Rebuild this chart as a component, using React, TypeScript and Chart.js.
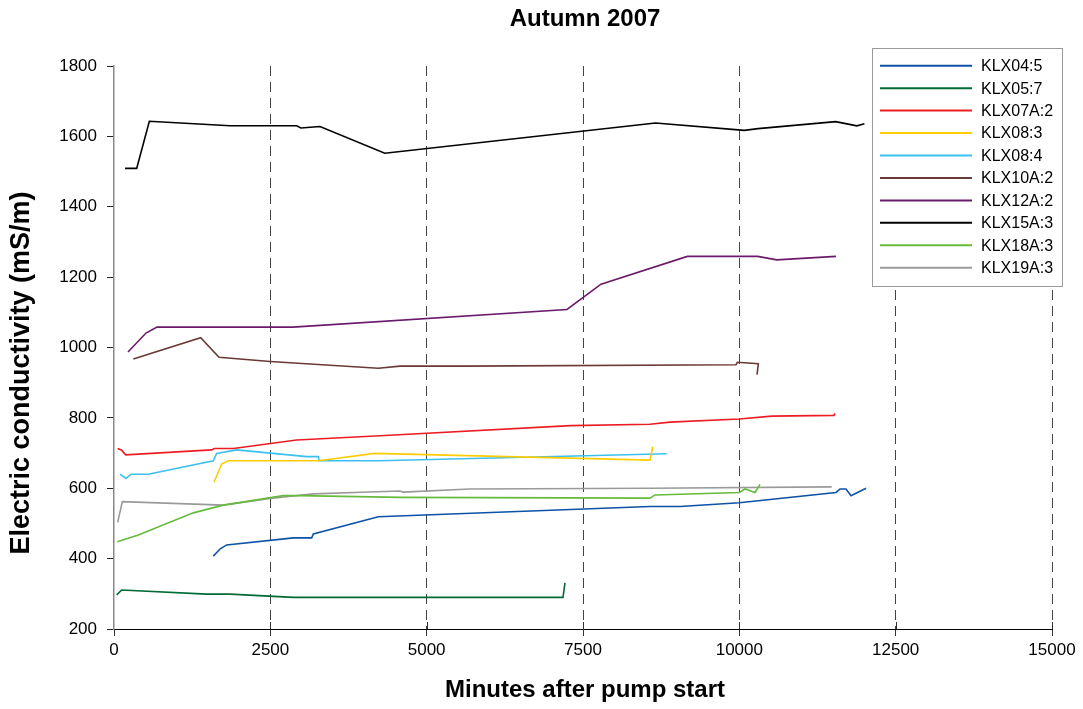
import { useEffect, useRef } from "react";
import { Chart, registerables } from "chart.js";

Chart.register(...registerables);

// Borehole section labels, in legend order
const seriesNames = [
  "KLX04:5",
  "KLX05:7",
  "KLX07A:2",
  "KLX08:3",
  "KLX08:4",
  "KLX10A:2",
  "KLX12A:2",
  "KLX15A:3",
  "KLX18A:3",
  "KLX19A:3",
];

const seriesColors = [
  "#0d52a6",
  "#006a35",
  "#ec1c24",
  "#ffcc00",
  "#3cc0f0",
  "#6a3a36",
  "#6b1a6b",
  "#000000",
  "#66bb3c",
  "#9a9a9a",
];

// Minutes after pump start / electric conductivity (mS/m)
const klx04_5_min = [1588, 1700, 1802, 2868, 3161, 3188, 4227, 8572, 9051, 10000, 11546, 11610, 11706, 11786, 12026];
const klx04_5_ec = [407, 428, 439, 459, 459, 470, 519, 548, 548, 559, 588, 598, 598, 579, 600];

const klx05_7_min = [43, 123, 1482, 1855, 2868, 7180, 7212];
const klx05_7_ec = [297, 311, 299, 299, 290, 290, 331];

const klx07a_2_min = [59, 123, 187, 1562, 1605, 1908, 2921, 4254, 7300, 8572, 8890, 10000, 10518, 11514, 11530];
const klx07a_2_ec = [713, 708, 695, 709, 713, 713, 737, 749, 778, 782, 788, 797, 805, 807, 813];

const klx08_3_min = [1599, 1722, 1828, 3268, 4170, 8572, 8615];
const klx08_3_ec = [617, 669, 678, 678, 699, 680, 718];

const klx08_4_min = [96, 192, 272, 549, 1588, 1642, 1962, 3082, 3268, 3279, 4254, 8838];
const klx08_4_ec = [640, 628, 640, 640, 678, 699, 709, 690, 690, 678, 678, 698];

const klx10a_2_min = [309, 1386, 1679, 2495, 4227, 4574, 5600, 9947, 9968, 10304, 10283];
const klx10a_2_ec = [967, 1028, 972, 960, 941, 947, 947, 951, 958, 954, 923];

const klx12a_2_min = [224, 512, 688, 2862, 7244, 7788, 9169, 10294, 10598, 11546];
const klx12a_2_ec = [987, 1041, 1058, 1058, 1108, 1180, 1259, 1259, 1249, 1259];

const klx15a_3_min = [176, 363, 565, 1855, 2921, 2990, 3294, 4330, 8660, 10080, 10300, 11540, 11880, 12000];
const klx15a_3_ec = [1509, 1509, 1643, 1630, 1630, 1624, 1628, 1552, 1638, 1617, 1622, 1642, 1630, 1636];

const klx18a_3_min = [53, 389, 1268, 1748, 2708, 2975, 4574, 8572, 8652, 10000, 10091, 10251, 10331];
const klx18a_3_ec = [448, 467, 530, 552, 579, 579, 574, 572, 581, 588, 598, 588, 611];

const klx19a_3_min = [59, 133, 1748, 2495, 3188, 4201, 4570, 4620, 5690, 8572, 11477];
const klx19a_3_ec = [503, 562, 552, 571, 584, 590, 592, 589, 598, 600, 604];

const seriesMinutes = [klx04_5_min, klx05_7_min, klx07a_2_min, klx08_3_min, klx08_4_min, klx10a_2_min, klx12a_2_min, klx15a_3_min, klx18a_3_min, klx19a_3_min];
const seriesValues = [klx04_5_ec, klx05_7_ec, klx07a_2_ec, klx08_3_ec, klx08_4_ec, klx10a_2_ec, klx12a_2_ec, klx15a_3_ec, klx18a_3_ec, klx19a_3_ec];

const xTicks = [0, 2500, 5000, 7500, 10000, 12500, 15000];
const yTicks = [200, 400, 600, 800, 1000, 1200, 1400, 1600, 1800];

const chartTitle = "Autumn 2007";
const xTitle = "Minutes after pump start";
const yTitle = "Electric conductivity (mS/m)";

const FONT = "'Liberation Sans', Arial, sans-serif";

const decorations = {
  id: "decorations",
  beforeDatasetsDraw(chart: any) {
    const { ctx, chartArea, scales } = chart;
    const xs = scales.x;
    ctx.save();
    ctx.strokeStyle = "#333";
    ctx.lineWidth = 1;
    for (const v of xTicks) {
      if (v === 0) continue;
      const px = Math.round(xs.getPixelForValue(v)) + 0.5;
      ctx.beginPath();
      ctx.moveTo(px, chartArea.bottom - 7);
      ctx.lineTo(px, chartArea.bottom);
      ctx.stroke();
    }
    ctx.restore();
  },
  afterDraw(chart: any) {
    const { ctx, chartArea } = chart;
    ctx.save();
    ctx.fillStyle = "#000";
    ctx.textAlign = "center";
    ctx.textBaseline = "middle";

    ctx.font = `bold 24px ${FONT}`;
    ctx.fillText(chartTitle, (chartArea.left + chartArea.right) / 2 + 2, 19);

    ctx.font = `bold 24px ${FONT}`;
    ctx.fillText(xTitle, (chartArea.left + chartArea.right) / 2 + 2, 690);

    ctx.save();
    ctx.translate(22, 373);
    ctx.rotate(-Math.PI / 2);
    ctx.font = `bold 27px ${FONT}`;
    ctx.fillText(yTitle, 0, 0);
    ctx.restore();

    // legend box
    const bx = 872, by = 48, bw = 190, bh = 238;
    ctx.fillStyle = "#fff";
    ctx.fillRect(bx, by, bw, bh);
    ctx.strokeStyle = "#9a9a9a";
    ctx.lineWidth = 1;
    ctx.strokeRect(bx + 0.5, by + 0.5, bw, bh);

    ctx.font = `16px ${FONT}`;
    ctx.textAlign = "left";
    ctx.textBaseline = "middle";
    seriesNames.forEach((name, i) => {
      const y = 65.7 + i * 22.45;
      ctx.strokeStyle = seriesColors[i];
      ctx.lineWidth = 2;
      ctx.beginPath();
      ctx.moveTo(880, y);
      ctx.lineTo(972, y);
      ctx.stroke();
      ctx.fillStyle = "#000";
      ctx.fillText(name, 981, y + 1);
    });
    ctx.restore();
  },
};

export default function App() {
  const canvasRef = useRef<HTMLCanvasElement | null>(null);

  useEffect(() => {
    const canvas = canvasRef.current;
    if (!canvas) return;

    const datasets = seriesNames.map((name, i) => ({
      label: name,
      data: seriesMinutes[i].map((m, j) => ({ x: m, y: seriesValues[i][j] })),
      borderColor: seriesColors[i],
      backgroundColor: seriesColors[i],
      borderWidth: 1.6,
      pointRadius: 0,
      tension: 0,
      fill: false,
    }));

    const chart = new Chart(canvas, {
      type: "line",
      data: { datasets },
      options: {
        animation: false,
        responsive: true,
        maintainAspectRatio: false,
        layout: { padding: { top: 66, right: 31, left: 0, bottom: 0 } },
        plugins: {
          legend: { display: false },
          title: { display: false },
          tooltip: { enabled: false },
        },
        scales: {
          x: {
            type: "linear",
            min: 0,
            max: 15000,
            afterFit: (s: any) => {
              s.height = 80;
            },
            afterBuildTicks: (s: any) => {
              s.ticks = xTicks.map((v) => ({ value: v }));
            },
            ticks: {
              color: "#000",
              font: { family: FONT, size: 17 },
              padding: 4,
              maxRotation: 0,
              autoSkip: false,
              callback: (v: any) => String(v),
            },
            grid: {
              drawOnChartArea: true,
              color: (c: any) => (c.tick && c.tick.value === 0 ? "rgba(0,0,0,0)" : "#444"),
              tickColor: "#333",
              tickLength: 7,
              lineWidth: 1,
            },
            border: { display: true, color: "#000", width: 1, dash: [10, 6] },
          },
          y: {
            type: "linear",
            min: 200,
            max: 1800,
            afterFit: (s: any) => {
              s.width = 114;
            },
            afterBuildTicks: (s: any) => {
              s.ticks = yTicks.map((v) => ({ value: v }));
            },
            ticks: {
              color: "#000",
              font: { family: FONT, size: 17 },
              padding: 10,
              callback: (v: any) => String(v),
            },
            grid: {
              drawOnChartArea: false,
              tickColor: "#222",
              tickLength: 7,
            },
            border: { display: true, color: "#888", width: 1.5 },
          },
        },
      },
      plugins: [decorations],
    });

    return () => chart.destroy();
  }, []);

  return (
    <div style={{ position: "absolute", left: 0, top: 0, width: 1083, height: 709 }}>
      <canvas ref={canvasRef} />
    </div>
  );
}
